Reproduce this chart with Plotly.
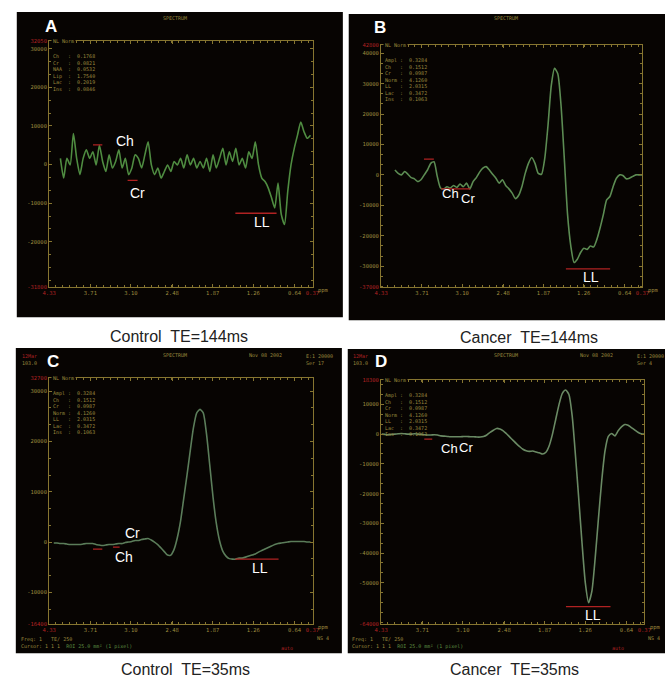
import numpy as np
import plotly.graph_objects as go

W, H = 672, 680

# ---------------- data: ppm sampling range + amplitude (x1000 a.u.) ----------------
a_ppm = (4.16, 0.40)
a_amp = [1.6, -3.5, 1.6, -0.1, 8.0, 1.6, -2.6, 1.6, 3.8, 1.6,
         3.3, -0.1, 5.0, 0.8, -1.8, 2.5, -0.9, 0.8, 3.8, -0.9,
         1.6, -2.6, -0.9, 2.5, 1.6, -0.9, 2.5, 5.9, -0.1, -2.6,
         -0.9, -3.5, -1.8, -0.1, -1.8, 0.8, -0.1, 1.6, -0.9, 2.5,
         -0.1, 1.6, -0.9, 0.8, -0.9, 1.6, -1.8, 2.5, -0.9, 1.6,
         4.2, -0.1, 3.3, 0.8, 4.2, -0.1, 1.6, -0.9, 3.3, 1.6,
         5.9, -0.1, -3.5, -4.4, -6.1, -8.6, -11.2, -4.8, -12.9, -15.5,
         -6.9, -0.1, 4.2, 7.6, 11.0, 8.5, 6.8, 7.6]

b_ppm = (4.12, 0.37)
b_amp = [1.6, 0.5, 0, 1.1, 0.2, -0.9, -1.3, -2.2, -1.6, 0,
         1.6, 3.8, 4.3, -0.5, -4.3, -4.6, -3.9, -4.3, -3.5, -4.1,
         -3.0, -3.9, -2.7, -4.6, -2.2, -0.9, 0.9, 2.2, 2.7, 1.6,
         0.2, -1.1, -2.7, -1.6, -3.5, -4.6, -6.0, -7.8, -6.7, -3.8,
         0.5, 3.8, 5.7, 3.8, 0.5, 0.2, 5.4, 16.3, 29.3, 35.0,
         33.2, 22.8, 5.4, -13.0, -23.4, -28.8, -27.7, -25.5, -24.1, -24.5,
         -23.4, -23.7, -21.2, -17.4, -13.0, -8.2, -7.1, -3.8, -1.1, 0,
         -0.2, -1.3, -1.1, -0.5, 0, 0, 0]

c_ppm = (4.26, 0.40)
c_amp = [-0.2, -0.2, -0.3, -0.3, -0.4, -0.5, -0.5, -0.5, -0.5, -0.4,
         -0.3, -0.3, -0.3, -0.5, -0.6, -0.7, -0.6, -0.5, -0.5, -0.4,
         -0.3, -0.3, -0.1, 0, 0.1, 0.3, 0.3, 0.5, 0.6, 0.7,
         0.4, 0, -0.5, -1.2, -1.9, -2.6, -2.6, -1.5, 0.8, 4.1,
         8.7, 13.3, 18.2, 22.8, 25.7, 26.4, 25.7, 21.5, 15.3, 9.0,
         3.8, 0.3, -1.8, -2.8, -3.3, -3.4, -3.4, -3.2, -3.2, -3.0,
         -2.8, -2.6, -2.4, -2.0, -1.7, -1.4, -1.1, -0.8, -0.5, -0.3,
         -0.2, -0.1, 0, 0.1, 0.1, 0.1, 0.1, 0.1, 0, 0]

d_ppm = (4.32, 0.37)
d_amp = [0, -0.1, -0.2, -0.1, 0, 0.1, 0.2, 0.1, 0, 0,
         0.1, 0, -0.1, -0.2, -0.3, -0.3, -0.2, -0.3, -0.6, -0.7,
         -0.8, -0.9, -0.9, -0.9, -0.9, -0.8, -0.8, -0.9, -0.9, -1.0,
         -1.0, -0.8, -0.3, 0.6, 1.3, 1.9, 1.7, 1.1, 0.1, -1.0,
         -2.1, -3.2, -4.2, -5.1, -5.6, -5.8, -5.7, -6.0, -6.3, -6.7,
         -6.1, -3.9, 0, 5.0, 10.0, 13.7, 14.8, 13.3, 6.1, -7.2,
         -21.7, -36.7, -50.0, -56.7, -52.8, -41.7, -28.3, -15.6, -5.6, -0.8,
         0.2, -0.6, 1.1, 2.4, 3.2, 3.0, 2.2, 1.4, 0.6, 0.1,
         0]

# integration / fit markers: (ppm_from, ppm_to, amplitude)
a_marks = [(3.67, 3.53, 5.1), (3.15, 3.00, -4.1), (1.53, 0.91, -12.6)]
b_marks = [(3.68, 3.53, 5.2), (3.42, 2.98, -4.6), (1.53, 0.86, -30.9)]
c_marks = [(3.67, 3.53, -1.4), (3.37, 3.27, -1.0), (1.53, 0.88, -3.4)]
d_marks = [(3.68, 3.56, -1.7), (1.55, 0.88, -58.0)]

# peak labels: (text, x_px, y_px, size)
a_labels = [("Ch", 120, 139, 14), ("Cr", 133, 192, 14), ("LL", 260, 221, 14)]
b_labels = [("Ch", 453, 192, 13), ("Cr", 471, 197, 13), ("LL", 596, 276, 14)]
c_labels = [("Cr", 128, 535, 14), ("Ch", 119, 559, 14), ("LL", 258, 570, 14)]
d_labels = [("Ch", 452, 449, 13), ("Cr", 469, 448, 13), ("LL", 598, 617, 14)]

captions = ["Control\u00a0 TE=144ms", "Cancer\u00a0 TE=144ms",
            "Control\u00a0 TE=35ms", "Cancer\u00a0 TE=35ms"]
letters = ["A", "B", "C", "D"]

# x tick labels (ppm)
x_ticks = [3.71, 3.10, 2.48, 1.87, 1.26, 0.64]
x_start, x_end = 4.33, 0.37

# y axes (x1000 a.u.): ticks + range ends
a_y = dict(ticks=[30, 20, 10, 0, -10, -20], rng=(-31.8, 32.05))
b_y = dict(ticks=[40, 30, 20, 10, 0, -10, -20, -30], rng=(-37.0, 42.8))
c_y = dict(ticks=[30, 20, 10, 0, -10], rng=(-16.4, 32.7))
d_y = dict(ticks=[10, 0, -10, -20, -30, -40, -50], rng=(-64.0, 18.3))

# ---------------- style / layout ----------------
BG = "#070402"
FRAME = "#867530"
TXT = "#9c8a3e"
RED = "#b02222"
MONO = "DejaVu Sans Mono"
SANS = "Liberation Sans, Arial, sans-serif"
GREENS = ["#4f8c41", "#5c8c53", "#5b7d5a", "#6a8a64"]

panel_boxes = [(10, 9, 343, 317), (349, 11, 672, 320), (9, 348, 342, 656), (348, 349, 672, 656)]
plot_boxes = [(43, 38, 312, 287), (382, 42, 649, 287), (43, 378, 312, 627), (382, 380, 651, 627)]
letter_pos = [(45, 24), (381, 25), (47, 362), (382, 362)]
caption_pos = [(176, 336), (533, 337), (182, 672), (518, 672)]

datasets = [(a_ppm, a_amp, a_y, a_marks, a_labels),
            (b_ppm, b_amp, b_y, b_marks, b_labels),
            (c_ppm, c_amp, c_y, c_marks, c_labels),
            (d_ppm, d_amp, d_y, d_marks, d_labels)]


def pp(x, y):
    return x / W, 1 - y / H


def note(x, y, text, size, color, family=MONO, xanchor="center", yanchor="middle", **kw):
    px_, py_ = pp(x, y)
    return dict(x=px_, y=py_, xref="paper", yref="paper", text=text, showarrow=False,
                xanchor=xanchor, yanchor=yanchor, font=dict(size=size, color=color, family=family), **kw)


fig = go.Figure()
annotations = []
shapes = []

minor_x = list(np.arange(x_start, x_end, -0.1025))

for i, ((p0, p1), amp, ycfg, marks, labels) in enumerate(datasets):
    n = "" if i == 0 else str(i + 1)
    xa, ya = "x" + n, "y" + n
    x0, y0, x1, y1 = plot_boxes[i]
    px0, py1 = pp(x0, y0)
    px1, py0 = pp(x1, y1)

    ppm = np.linspace(p0, p1, len(amp))
    fig.add_trace(go.Scatter(x=ppm, y=amp, mode="lines", xaxis=xa, yaxis=ya,
                             line=dict(color=GREENS[i], width=1.6, shape="spline", smoothing=0.6),
                             hoverinfo="skip", showlegend=False))
    for (m0, m1, mv) in marks:
        fig.add_trace(go.Scatter(x=[m0, m1], y=[mv, mv], mode="lines", xaxis=xa, yaxis=ya,
                                 line=dict(color=RED, width=1.3), hoverinfo="skip", showlegend=False))

    lo, hi = ycfg["rng"]
    yt_vals = [hi - 0.01] + ycfg["ticks"] + [lo + 0.01]
    yt_text = [f"<span style='color:{RED}'>{hi*1000:.0f}</span>"] + \
              [f"{v*1000:.0f}" for v in ycfg["ticks"]] + \
              [f"<span style='color:{RED}'>{lo*1000:.0f}</span>"]
    xt_vals = [x_start - 0.001] + x_ticks + [x_end + 0.001]
    xt_text = [f"<span style='color:{RED}'>{x_start:.2f}</span>"] + \
              [f"{v:.2f}" for v in x_ticks] + \
              [f"<span style='color:{RED}'>{x_end:.2f}</span>"]

    fig.layout["xaxis" + n] = dict(
        domain=[px0, px1], range=[x_start, x_end], anchor=ya,
        showgrid=False, zeroline=False, showline=True, linecolor=FRAME, linewidth=1,
        mirror="ticks", ticks="inside", ticklen=3, tickcolor=FRAME,
        tickmode="array", tickvals=xt_vals, ticktext=xt_text,
        tickfont=dict(size=5.5, color=TXT, family=MONO),
        minor=dict(tickvals=minor_x, ticks="inside", ticklen=2, tickcolor=FRAME),
        fixedrange=True)
    step = 10 / 3.0
    minor_y = list(np.arange(np.ceil(lo / step) * step, hi, step))
    fig.layout["yaxis" + n] = dict(
        domain=[py0, py1], range=[lo, hi], anchor=xa,
        showgrid=False, zeroline=False, showline=True, linecolor=FRAME, linewidth=1,
        mirror="ticks", ticks="inside", ticklen=3, tickcolor=FRAME,
        tickmode="array", tickvals=yt_vals, ticktext=yt_text,
        tickfont=dict(size=5.5, color=TXT, family=MONO),
        minor=dict(tickvals=minor_y, ticks="inside", ticklen=2, tickcolor=FRAME),
        fixedrange=True)

    # panel background
    bx0, by0, bx1, by1 = panel_boxes[i]
    qx0, qy1 = pp(bx0, by0)
    qx1, qy0 = pp(bx1, by1)
    shapes.append(dict(type="rect", xref="paper", yref="paper", x0=qx0, x1=qx1, y0=qy0, y1=qy1,
                       fillcolor=BG, line=dict(width=0), layer="below"))

    annotations.append(note(*letter_pos[i], f"<b>{letters[i]}</b>", 17, "white", SANS))
    annotations.append(note(*caption_pos[i], captions[i], 16, "#222222", SANS))
    for (t, tx, ty, sz) in labels:
        annotations.append(note(tx, ty, t, sz, "white", SANS))

    # scanner screen texts (positions relative to panel origin)
    ox = 0 if i in (0, 2) else 338
    oy = 0 if i < 2 else 340
    annotations.append(note(ox + 172, oy + 15, "SPECTRUM", 5, TXT))
    annotations.append(note(x0 + 2, y0, "NL Norm", 5, TXT, xanchor="left", bgcolor=BG))
    annotations.append(note(x1 + 4, y1 + 3, "ppm", 5.5, TXT, xanchor="left"))
    info_lines = ["Ch   :  0.1768", "Cr   :  0.0821", "NAA  :  0.0532", "Lip  :  1.7540",
                  "Lac  :  0.2019", "Ins  :  0.0846"]
    if i > 0:
        info_lines = ["Ampl :  0.3284", "Ch   :  0.1512", "Cr   :  0.0987", "Norm :  4.1260",
                      "LL   :  2.0315", "Lac  :  0.3472", "Ins  :  0.1063"]
    annotations.append(note(x0 + 2, y0 + 10, "<br>".join(info_lines), 5, TXT,
                            xanchor="left", yanchor="top", align="left"))
    if i >= 2:
        annotations.append(note(ox + 13, oy + 11, f"<span style='color:{RED}'>12Mar</span><br>103.0",
                                5, TXT, xanchor="left", yanchor="top", align="left"))
        annotations.append(note(ox + 245, oy + 15, "Nov 08 2002", 5, TXT, xanchor="left"))
        annotations.append(note(ox + 303, oy + 11, "E:1 20000<br>Ser " + ("17" if i == 2 else "4"),
                                5, TXT, xanchor="left", yanchor="top", align="left"))
        annotations.append(note(ox + 12, oy + 297,
                                "Freq: 1   TE/ 250<br>Cursor: 1 1 1  "
                                "<span style='color:#5c8c40'>ROI 25.0 mm\u00b2 (1 pixel)</span>",
                                5, TXT, xanchor="left", yanchor="top", align="left"))
        annotations.append(note(ox + 315, oy + 301, "NS 4", 5, TXT, xanchor="left"))
        annotations.append(note(ox + 278, oy + 311, "auto", 5, RED, xanchor="left"))

fig.update_layout(
    width=W, height=H, margin=dict(l=0, r=0, t=0, b=0),
    paper_bgcolor="white", plot_bgcolor=BG, showlegend=False,
    annotations=annotations, shapes=shapes,
)

fig.write_html("out.html", config={"displayModeBar": False},
               post_script="document.body.style.margin='0';document.body.style.padding='0';"
                           "document.documentElement.style.overflow='hidden';")
